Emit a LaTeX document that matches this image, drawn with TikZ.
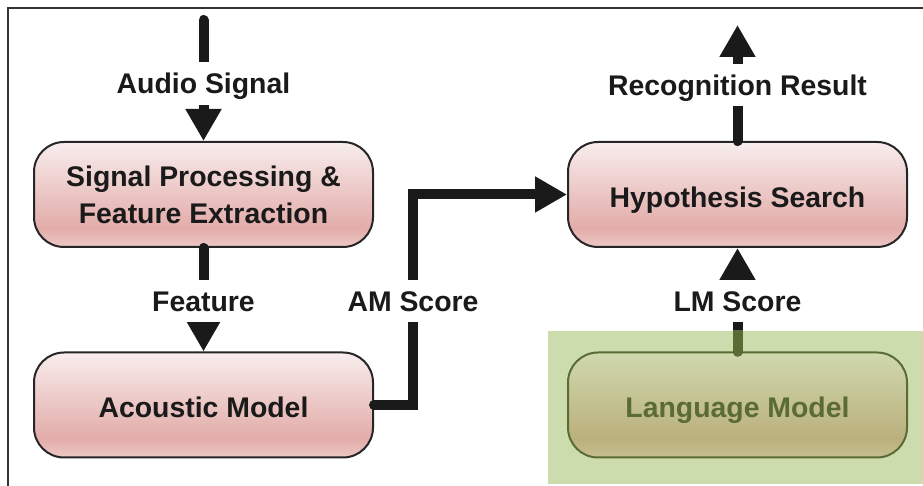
\documentclass[tikz,border=0pt]{standalone}
\usepackage{fontspec}
\setmainfont{Liberation Sans}
\usetikzlibrary{arrows.meta}
\definecolor{pinktop}{HTML}{F8EDED}
\definecolor{pinkmid}{HTML}{E2ACA9}
\definecolor{pinkbot}{HTML}{EDC8C6}
\definecolor{oltop}{HTML}{CFD8AE}
\definecolor{olmid}{HTML}{BBB07D}
\definecolor{olbot}{HTML}{C6BF90}
\definecolor{olline}{HTML}{5A6B35}
\definecolor{greenbg}{HTML}{CDDCAD}
\definecolor{txt}{HTML}{1A1A1A}
\pgfdeclareverticalshading{pinkshade}{100bp}{color(0bp)=(pinkbot); color(25bp)=(pinkbot); color(34bp)=(pinkmid); color(75bp)=(pinktop); color(100bp)=(pinktop)}
\pgfdeclareverticalshading{olshade}{100bp}{color(0bp)=(olbot); color(25bp)=(olbot); color(34bp)=(olmid); color(75bp)=(oltop); color(100bp)=(oltop)}
\tikzset{
  box/.style={draw=black!85, line width=1pt, rounded corners=15pt, shading=pinkshade,
    minimum width=169.5pt, minimum height=52.5pt, align=center, text=txt,
    font=\fontsize{14.2}{18.5}\selectfont\bfseries},
  onebox/.style={box, text height=12.7pt, text depth=0pt},
  lmbox/.style={onebox, draw=olline, shading=olshade, text=olline},
  conn/.style={line width=5pt, draw=txt, line cap=round, -{Triangle[length=16pt,width=17pt]}},
  lbl/.style={fill=white, inner xsep=2pt, inner ysep=5.5pt, text=txt,
    text height=10.4pt, text depth=0pt,
    font=\fontsize{14.2}{17}\selectfont\bfseries},
}
\begin{document}
\begin{tikzpicture}[x=0.5pt,y=-0.5pt]
\useasboundingbox (0,0) rectangle (923,486);
% frame
\draw[line width=1pt, black!80] (8,486) -- (8,8) -- (923,8);
% green background
\fill[greenbg] (548,331) rectangle (923,484);
% boxes
\node[box] (sp) at (203.5,194.5) {Signal Processing \&\\Feature Extraction};
\node[onebox] (am) at (203.5,405) {Acoustic Model};
\node[onebox] (hs) at (737.5,194.5) {Hypothesis Search};
\node[lmbox] (lm) at (737.5,405) {Language Model};
% free ends
\coordinate (in) at (203.5,20);
\coordinate (out) at (737.5,25);
\coordinate (amx) at (413,301);
% connectors
\draw[conn] (in) -- (sp.north);
\draw[conn] (sp.south) -- (am.north);
\draw[conn] (hs.north) -- (out);
\draw[conn] (am.east) -| (amx) |- (hs.west);
\draw[conn] (lm.north) -- (hs.south);
\begin{scope}
  \clip (548,331) rectangle (923,484);
  \draw[conn, draw=olline] (lm.north) -- (hs.south);
\end{scope}
% labels
\node[lbl] at (203.5,83.5) {Audio Signal};
\node[lbl] at (203.5,301) {Feature};
\node[lbl] at (737.5,85) {Recognition Result};
\node[lbl] at (737.5,301) {LM Score};
\node[lbl] at (amx) {AM Score};
\end{tikzpicture}
\end{document}
